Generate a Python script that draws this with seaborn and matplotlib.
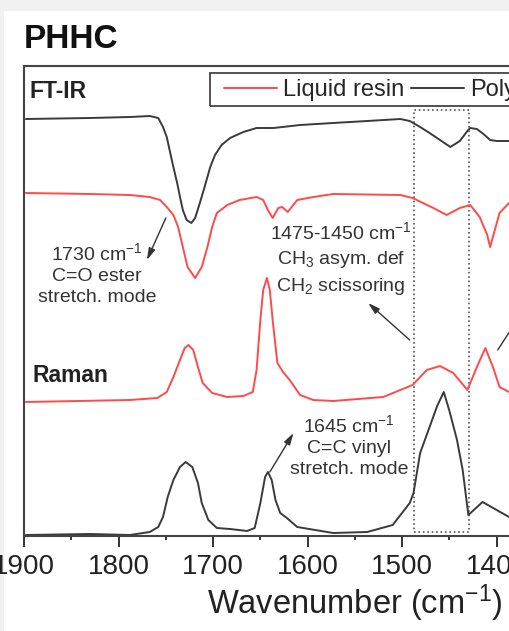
import matplotlib
matplotlib.use('Agg')
import matplotlib.pyplot as plt
from matplotlib.patches import Rectangle
from matplotlib.ticker import MultipleLocator
import seaborn as sns

sns.set_style('white')
plt.rcParams['font.family'] = ['Liberation Sans', 'DejaVu Sans']
plt.rcParams['mathtext.default'] = 'regular'

# spectra (wavenumber in cm-1, intensity in arbitrary units, stacked)
ftir_poly_wn = [1898, 1830, 1788, 1767, 1758, 1753, 1749, 1746, 1742, 1738, 1735, 1732,
                1728, 1723, 1719, 1714, 1709, 1703, 1698, 1691, 1682, 1668, 1654, 1636,
                1608, 1573, 1537, 1502, 1492, 1481, 1471, 1460, 1449, 1439, 1431, 1428,
                1421, 1414, 1407, 1400, 1387]
ftir_poly_i = [417, 418, 419, 420, 418, 409, 399, 386, 369, 353, 339, 326,
               316, 313, 318, 333, 349, 369, 381, 391, 398, 404, 408, 408,
               411, 413, 415, 417, 415, 409, 403, 396, 389, 395, 405, 408,
               407, 402, 396, 395, 395]

ftir_resin_wn = [1898, 1830, 1788, 1767, 1756, 1749, 1742, 1737, 1732, 1727, 1719, 1712,
                 1706, 1701, 1696, 1685, 1672, 1654, 1647, 1642, 1637, 1631, 1627, 1621,
                 1611, 1594, 1573, 1502, 1489, 1467, 1453, 1439, 1428, 1418, 1410, 1407,
                 1402, 1397, 1387]
ftir_resin_i = [343, 342, 341, 339, 336, 329, 321, 309, 289, 269, 258, 269,
                289, 309, 323, 331, 336, 339, 336, 326, 318, 328, 329, 324,
                336, 339, 342, 341, 338, 328, 321, 328, 331, 319, 301, 289,
                306, 323, 333]

raman_resin_wn = [1898, 1788, 1759, 1749, 1742, 1735, 1730, 1726, 1721, 1716, 1711, 1701,
                  1685, 1668, 1658, 1654, 1650, 1647, 1643, 1640, 1637, 1632, 1626, 1619,
                  1608, 1594, 1573, 1520, 1489, 1474, 1460, 1446, 1431, 1421, 1412, 1404,
                  1397, 1387]
raman_resin_i = [134, 136, 138, 144, 159, 176, 188, 191, 186, 169, 153, 143,
                 139, 140, 144, 166, 216, 246, 258, 246, 216, 173, 164, 156,
                 141, 136, 135, 139, 151, 166, 170, 163, 146, 169, 188, 169,
                 149, 144]

raman_poly_wn = [1898, 1830, 1788, 1767, 1758, 1753, 1748, 1742, 1735, 1729, 1722, 1716,
                 1712, 1705, 1696, 1682, 1664, 1656, 1650, 1645, 1642, 1638, 1634, 1629,
                 1622, 1611, 1573, 1537, 1510, 1492, 1488, 1481, 1471, 1463, 1456, 1450,
                 1442, 1436, 1430, 1415, 1400, 1387]
raman_poly_i = [1, 2, 1, 4, 9, 19, 39, 56, 69, 74, 69, 53,
                33, 16, 8, 7, 5, 8, 33, 59, 64, 56, 36, 23,
                18, 9, 3, 4, 11, 33, 43, 83, 109, 130, 144, 125,
                96, 66, 21, 34, 26, 19]

red = '#ff4a4a'
black = '#3a3a3a'
grey = '#333333'

# dotted box round the CH3/CH2 band
box_wn = (1487.5, 1429.3)
box_i = (4, 426)

fig = plt.figure(figsize=(5.09, 6.31), dpi=100)
fig.patch.set_facecolor('#f1f1f1')
fig.patches.append(Rectangle((4 / 509, 0), 1, 620 / 631, transform=fig.transFigure,
                             facecolor='white', edgecolor='none', zorder=-10))

ax = fig.add_axes([24 / 509, 95 / 631, 661.8 / 509, 470 / 631])
ax.set_facecolor('white')

sns.lineplot(x=ftir_poly_wn, y=ftir_poly_i, ax=ax, color=black, lw=1.4, label='Polymer')
sns.lineplot(x=ftir_resin_wn, y=ftir_resin_i, ax=ax, color=red, lw=1.4, label='Liquid resin')
sns.lineplot(x=raman_resin_wn, y=raman_resin_i, ax=ax, color=red, lw=1.4)
sns.lineplot(x=raman_poly_wn, y=raman_poly_i, ax=ax, color=black, lw=1.4)

ax.add_patch(Rectangle((box_wn[0], box_i[0]), box_wn[1] - box_wn[0], box_i[1] - box_i[0],
                       fill=False, ls=':', lw=1.2, ec='#555555'))

ax.set_xlim(1900, 1200)
ax.set_ylim(0, 470)
ax.xaxis.set_major_locator(MultipleLocator(100))
ax.xaxis.set_minor_locator(MultipleLocator(50))
ax.tick_params(axis='x', which='major', direction='out', length=8, width=1.4,
               labelsize=20, pad=5, colors='#333333', labelcolor='#222222', bottom=True)
ax.tick_params(axis='x', which='minor', direction='out', length=3, width=1.4,
               colors='#333333', bottom=True)
ax.set_yticks([])
ax.set_ylabel('')
for s in ax.spines.values():
    s.set_color('#444444')
    s.set_linewidth(1.5)
ax.set_xlabel('Wavenumber (cm$^{-1}$)', fontsize=23.5, color='#222222', labelpad=2)

# legend without its own frame, frame drawn separately to get the wide inner margin
h, l = ax.get_legend_handles_labels()
ax.legend([h[1], h[0]], [l[1], l[0]], loc='center left', bbox_to_anchor=(0.302, 0.949),
          borderaxespad=0, ncol=2, fontsize=17, handlelength=2.25, handletextpad=0.25,
          columnspacing=0.3, borderpad=0, frameon=False)
ax.add_patch(Rectangle((0.281, 0.915), 0.8, 0.0702, transform=ax.transAxes, fill=False,
                       ec='#444444', lw=1.3, clip_on=False))

ax.text(1894, 444, 'FT-IR', fontsize=16.5, fontweight='bold', ha='left', va='center',
        color='#222222')
ax.text(1891, 161, 'Raman', fontsize=16.5, fontweight='bold', ha='left', va='center',
        color='#222222')
fig.text(24 / 509, 1 - 40 / 631, 'PHHC', fontsize=24, fontweight='bold', ha='left',
         va='center', color='#111111')

arrow = dict(arrowstyle='-|>,head_length=0.7,head_width=0.2', color=grey, lw=1.0,
             shrinkA=0, shrinkB=0)
ax.text(1823, 262, '1730 cm$^{-1}$\nC=O ester\nstretch. mode', fontsize=14, ha='center',
        va='center', color=grey, linespacing=1.3)
ax.annotate('', xy=(1770, 276), xytext=(1750, 318), arrowprops=arrow)

ax.text(1565, 277, '1475-1450 cm$^{-1}$\nCH$_3$ asym. def\nCH$_2$ scissoring', fontsize=14,
        ha='center', va='center', color=grey, linespacing=1.4)
ax.annotate('', xy=(1536, 233), xytext=(1492, 196), arrowprops=arrow)

ax.text(1556, 90, '1645 cm$^{-1}$\nC=C vinyl\nstretch. mode', fontsize=14, ha='center',
        va='center', color=grey, linespacing=1.3)
ax.annotate('', xy=(1615, 103), xytext=(1640, 64), arrowprops=arrow)

ax.annotate('', xy=(1370, 228), xytext=(1399, 186), arrowprops=arrow)

fig.savefig('out.png', dpi=100, facecolor=fig.get_facecolor())
